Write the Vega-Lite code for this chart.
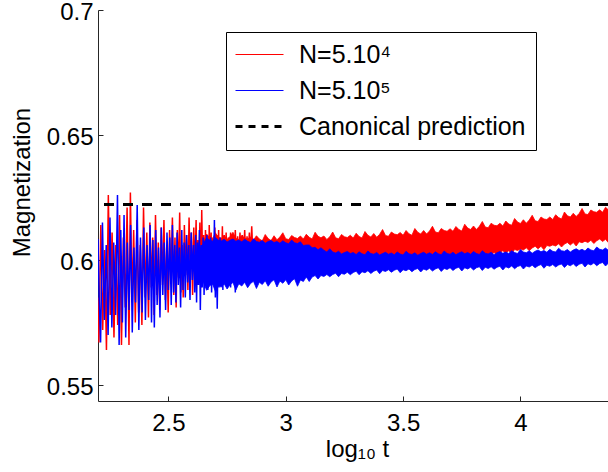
{
  "$schema": "https://vega.github.io/schema/vega-lite/v6.json",
  "width": 510,
  "height": 391,
  "autosize": {"type": "none"},
  "padding": {"left": 98, "top": 10, "right": 0, "bottom": 71},
  "background": "white",
  "config": {
    "font": "Liberation Sans",
    "view": {"stroke": null},
    "axis": {
      "grid": false,
      "labelFont": "Liberation Sans",
      "labelFontSize": 24,
      "labelColor": "#000",
      "titleFont": "Liberation Sans",
      "titleFontSize": 24,
      "titleFontWeight": "normal",
      "titleColor": "#000",
      "domainColor": "#262626",
      "tickColor": "#262626",
      "tickSize": -5,
      "labelFlush": false,
      "labelOverlap": false,
      "labelBound": false
    },
    "legend": {
      "orient": "none",
      "legendX": 128,
      "legendY": 22,
      "strokeColor": "#000",
      "fillColor": "#fff",
      "padding": 10,
      "cornerRadius": 0,
      "symbolType": "M-2,0H2",
      "symbolSize": 576,
      "symbolOffset": 11,
      "labelOffset": 27,
      "rowPadding": 10,
      "labelFont": "Liberation Sans",
      "labelFontSize": 25,
      "labelColor": "#000",
      "labelLimit": 500
    }
  },
  "datasets": {
    "redLine": [
      {"x":2.200,"y":0.585},{"x":2.204,"y":0.567},{"x":2.212,"y":0.614},{"x":2.220,"y":0.572},{"x":2.228,"y":0.604},{"x":2.236,"y":0.564},{"x":2.244,"y":0.626},{"x":2.252,"y":0.578},{"x":2.260,"y":0.611},{"x":2.268,"y":0.569},{"x":2.276,"y":0.606},{"x":2.284,"y":0.574},{"x":2.292,"y":0.618},{"x":2.300,"y":0.566},{"x":2.308,"y":0.609},{"x":2.316,"y":0.581},{"x":2.324,"y":0.621},{"x":2.332,"y":0.566},{"x":2.338,"y":0.627},{"x":2.345,"y":0.583},{"x":2.352,"y":0.612},{"x":2.359,"y":0.575},{"x":2.366,"y":0.616},{"x":2.373,"y":0.579},{"x":2.380,"y":0.606},{"x":2.387,"y":0.574},{"x":2.394,"y":0.621},{"x":2.401,"y":0.585},{"x":2.408,"y":0.611},{"x":2.415,"y":0.577},{"x":2.421,"y":0.615},{"x":2.427,"y":0.589},{"x":2.433,"y":0.609},{"x":2.439,"y":0.578},{"x":2.445,"y":0.618},{"x":2.451,"y":0.586},{"x":2.457,"y":0.607},{"x":2.463,"y":0.580},{"x":2.469,"y":0.613},{"x":2.475,"y":0.590},{"x":2.481,"y":0.616},{"x":2.487,"y":0.584},{"x":2.493,"y":0.606},{"x":2.499,"y":0.579},{"x":2.505,"y":0.612},{"x":2.511,"y":0.592},{"x":2.517,"y":0.617},{"x":2.523,"y":0.586},{"x":2.528,"y":0.609},{"x":2.533,"y":0.581},{"x":2.538,"y":0.612},{"x":2.543,"y":0.593},{"x":2.548,"y":0.619},{"x":2.553,"y":0.587},{"x":2.558,"y":0.606},{"x":2.563,"y":0.585},{"x":2.568,"y":0.614},{"x":2.573,"y":0.594},{"x":2.578,"y":0.610},{"x":2.583,"y":0.588},{"x":2.588,"y":0.617},{"x":2.593,"y":0.596},{"x":2.598,"y":0.611},{"x":2.603,"y":0.586},{"x":2.608,"y":0.613},{"x":2.613,"y":0.595},{"x":2.618,"y":0.616},{"x":2.622,"y":0.590},{"x":2.626,"y":0.608},{"x":2.630,"y":0.593},{"x":2.634,"y":0.615},{"x":2.638,"y":0.589},{"x":2.642,"y":0.620},{"x":2.646,"y":0.597},{"x":2.650,"y":0.610},{"x":2.654,"y":0.591},{"x":2.658,"y":0.612},{"x":2.662,"y":0.595},{"x":2.666,"y":0.609},{"x":2.670,"y":0.589},{"x":2.674,"y":0.614},{"x":2.678,"y":0.597},{"x":2.682,"y":0.611},{"x":2.686,"y":0.592},{"x":2.690,"y":0.609},{"x":2.694,"y":0.596},{"x":2.698,"y":0.613},{"x":2.702,"y":0.593},{"x":2.706,"y":0.610},{"x":2.710,"y":0.598},{"x":2.714,"y":0.612},{"x":2.718,"y":0.594},{"x":2.722,"y":0.609},{"x":2.726,"y":0.597},{"x":2.730,"y":0.6135},{"x":2.734,"y":0.593},{"x":2.738,"y":0.610},{"x":2.742,"y":0.598},{"x":2.746,"y":0.611},{"x":2.750,"y":0.595},{"x":2.755,"y":0.609},{"x":2.760,"y":0.599},{"x":2.765,"y":0.611},{"x":2.770,"y":0.598},{"x":2.775,"y":0.610},{"x":2.780,"y":0.600},{"x":2.785,"y":0.612},{"x":2.790,"y":0.599},{"x":2.795,"y":0.6095},{"x":2.800,"y":0.601},{"x":2.805,"y":0.611},{"x":2.810,"y":0.600},{"x":2.815,"y":0.610},{"x":2.820,"y":0.601},{"x":2.825,"y":0.612},{"x":2.830,"y":0.600},{"x":2.835,"y":0.6095},{"x":2.840,"y":0.602},{"x":2.845,"y":0.611},{"x":2.850,"y":0.601},{"x":2.855,"y":0.6135},{"x":2.860,"y":0.602}
    ],
    "blueLine": [
      {"x":2.200,"y":0.6084},{"x":2.205,"y":0.585},{"x":2.211,"y":0.567},{"x":2.219,"y":0.615},{"x":2.227,"y":0.576},{"x":2.235,"y":0.606},{"x":2.243,"y":0.570},{"x":2.251,"y":0.617},{"x":2.259,"y":0.573},{"x":2.267,"y":0.607},{"x":2.275,"y":0.578},{"x":2.283,"y":0.626},{"x":2.290,"y":0.566},{"x":2.297,"y":0.612},{"x":2.304,"y":0.575},{"x":2.311,"y":0.618},{"x":2.318,"y":0.569},{"x":2.325,"y":0.607},{"x":2.332,"y":0.580},{"x":2.339,"y":0.614},{"x":2.346,"y":0.571},{"x":2.353,"y":0.605},{"x":2.360,"y":0.583},{"x":2.367,"y":0.622},{"x":2.374,"y":0.572},{"x":2.381,"y":0.609},{"x":2.388,"y":0.579},{"x":2.395,"y":0.613},{"x":2.402,"y":0.576},{"x":2.409,"y":0.606},{"x":2.416,"y":0.584},{"x":2.422,"y":0.614},{"x":2.428,"y":0.575},{"x":2.434,"y":0.608},{"x":2.440,"y":0.573},{"x":2.446,"y":0.612},{"x":2.452,"y":0.582},{"x":2.458,"y":0.605},{"x":2.464,"y":0.577},{"x":2.470,"y":0.613},{"x":2.476,"y":0.586},{"x":2.482,"y":0.607},{"x":2.488,"y":0.580},{"x":2.494,"y":0.611},{"x":2.500,"y":0.588},{"x":2.506,"y":0.609},{"x":2.512,"y":0.582},{"x":2.517,"y":0.614},{"x":2.522,"y":0.587},{"x":2.527,"y":0.606},{"x":2.532,"y":0.583},{"x":2.537,"y":0.611},{"x":2.542,"y":0.590},{"x":2.547,"y":0.605},{"x":2.552,"y":0.581},{"x":2.557,"y":0.612},{"x":2.562,"y":0.588},{"x":2.567,"y":0.607},{"x":2.572,"y":0.585},{"x":2.577,"y":0.610},{"x":2.582,"y":0.591},{"x":2.587,"y":0.606},{"x":2.592,"y":0.584},{"x":2.597,"y":0.611},{"x":2.602,"y":0.592},{"x":2.607,"y":0.606},{"x":2.612,"y":0.587},{"x":2.616,"y":0.610},{"x":2.620,"y":0.583},{"x":2.624,"y":0.607},{"x":2.628,"y":0.590},{"x":2.632,"y":0.612},{"x":2.636,"y":0.580},{"x":2.640,"y":0.606},{"x":2.644,"y":0.589},{"x":2.648,"y":0.609},{"x":2.652,"y":0.586},{"x":2.656,"y":0.605},{"x":2.660,"y":0.591},{"x":2.664,"y":0.610},{"x":2.668,"y":0.588},{"x":2.672,"y":0.606},{"x":2.676,"y":0.592},{"x":2.680,"y":0.609},{"x":2.684,"y":0.587},{"x":2.688,"y":0.605},{"x":2.692,"y":0.590},{"x":2.696,"y":0.616},{"x":2.700,"y":0.585},{"x":2.704,"y":0.607},{"x":2.708,"y":0.5805},{"x":2.712,"y":0.606},{"x":2.716,"y":0.589},{"x":2.720,"y":0.609},{"x":2.724,"y":0.591},{"x":2.728,"y":0.606},{"x":2.732,"y":0.588},{"x":2.736,"y":0.608},{"x":2.740,"y":0.592},{"x":2.744,"y":0.605},{"x":2.748,"y":0.590},{"x":2.752,"y":0.607},{"x":2.756,"y":0.593},{"x":2.760,"y":0.6055},{"x":2.765,"y":0.589},{"x":2.770,"y":0.606},{"x":2.775,"y":0.592},{"x":2.780,"y":0.607},{"x":2.785,"y":0.587},{"x":2.790,"y":0.605},{"x":2.795,"y":0.591},{"x":2.800,"y":0.606}
    ],
    "bands": [
      {"x":2.625,"rl":0.600,"rh":0.6030,"bl":0.5960,"bh":0.6020},
      {"x":2.6375,"rl":0.599,"rh":0.6060,"bl":0.5930,"bh":0.6050},
      {"x":2.65,"rl":0.598,"rh":0.6075,"bl":0.5910,"bh":0.6068},
      {"x":2.6625,"rl":0.597,"rh":0.6104,"bl":0.5879,"bh":0.6088},
      {"x":2.675,"rl":0.597,"rh":0.6091,"bl":0.5896,"bh":0.6080},
      {"x":2.6875,"rl":0.597,"rh":0.6083,"bl":0.5905,"bh":0.6075},
      {"x":2.7,"rl":0.597,"rh":0.6109,"bl":0.5875,"bh":0.6090},
      {"x":2.7125,"rl":0.597,"rh":0.6092,"bl":0.5900,"bh":0.6080},
      {"x":2.725,"rl":0.597,"rh":0.6085,"bl":0.5891,"bh":0.6076},
      {"x":2.7375,"rl":0.597,"rh":0.6098,"bl":0.5905,"bh":0.6083},
      {"x":2.75,"rl":0.597,"rh":0.6082,"bl":0.5884,"bh":0.6072},
      {"x":2.7625,"rl":0.597,"rh":0.6093,"bl":0.5901,"bh":0.6079},
      {"x":2.775,"rl":0.597,"rh":0.6111,"bl":0.5910,"bh":0.6084},
      {"x":2.7875,"rl":0.597,"rh":0.6086,"bl":0.5880,"bh":0.6075},
      {"x":2.8,"rl":0.597,"rh":0.6082,"bl":0.5905,"bh":0.6080},
      {"x":2.8125,"rl":0.597,"rh":0.6098,"bl":0.5896,"bh":0.6073},
      {"x":2.825,"rl":0.597,"rh":0.6088,"bl":0.5911,"bh":0.6083},
      {"x":2.8375,"rl":0.597,"rh":0.6084,"bl":0.5889,"bh":0.6075},
      {"x":2.85,"rl":0.597,"rh":0.6092,"bl":0.5906,"bh":0.6070},
      {"x":2.8625,"rl":0.597,"rh":0.6080,"bl":0.5915,"bh":0.6085},
      {"x":2.875,"rl":0.597,"rh":0.6097,"bl":0.5886,"bh":0.6074},
      {"x":2.8875,"rl":0.597,"rh":0.6084,"bl":0.5911,"bh":0.6071},
      {"x":2.9,"rl":0.597,"rh":0.6077,"bl":0.5902,"bh":0.6078},
      {"x":2.9125,"rl":0.597,"rh":0.6102,"bl":0.5917,"bh":0.6067},
      {"x":2.925,"rl":0.597,"rh":0.6086,"bl":0.5895,"bh":0.6074},
      {"x":2.9375,"rl":0.597,"rh":0.6078,"bl":0.5912,"bh":0.6078},
      {"x":2.95,"rl":0.597,"rh":0.6097,"bl":0.5921,"bh":0.6070},
      {"x":2.9625,"rl":0.597,"rh":0.6081,"bl":0.5892,"bh":0.6074},
      {"x":2.975,"rl":0.597,"rh":0.6092,"bl":0.5916,"bh":0.6067},
      {"x":2.9875,"rl":0.597,"rh":0.6109,"bl":0.5907,"bh":0.6077},
      {"x":3.0,"rl":0.597,"rh":0.6085,"bl":0.5921,"bh":0.6069},
      {"x":3.0125,"rl":0.597,"rh":0.6082,"bl":0.5900,"bh":0.6065},
      {"x":3.025,"rl":0.597,"rh":0.6098,"bl":0.5916,"bh":0.6080},
      {"x":3.0375,"rl":0.597,"rh":0.6090,"bl":0.5925,"bh":0.6069},
      {"x":3.05,"rl":0.597,"rh":0.6086,"bl":0.5895,"bh":0.6066},
      {"x":3.0625,"rl":0.597,"rh":0.6096,"bl":0.5920,"bh":0.6073},
      {"x":3.075,"rl":0.597,"rh":0.6084,"bl":0.5914,"bh":0.6058},
      {"x":3.0875,"rl":0.597,"rh":0.6103,"bl":0.5932,"bh":0.6060},
      {"x":3.1,"rl":0.597,"rh":0.6091,"bl":0.5914,"bh":0.6060},
      {"x":3.1125,"rl":0.597,"rh":0.6084,"bl":0.5932,"bh":0.6049},
      {"x":3.125,"rl":0.597,"rh":0.6111,"bl":0.5938,"bh":0.6051},
      {"x":3.1375,"rl":0.597,"rh":0.6095,"bl":0.5924,"bh":0.6041},
      {"x":3.15,"rl":0.597,"rh":0.6089,"bl":0.5938,"bh":0.6049},
      {"x":3.1625,"rl":0.597,"rh":0.6096,"bl":0.5934,"bh":0.6039},
      {"x":3.175,"rl":0.597,"rh":0.6082,"bl":0.5942,"bh":0.6032},
      {"x":3.1875,"rl":0.597,"rh":0.6093,"bl":0.5933,"bh":0.6045},
      {"x":3.2,"rl":0.597,"rh":0.6112,"bl":0.5942,"bh":0.6032},
      {"x":3.2125,"rl":0.597,"rh":0.6089,"bl":0.5947,"bh":0.6028},
      {"x":3.225,"rl":0.597,"rh":0.6085,"bl":0.5933,"bh":0.6035},
      {"x":3.2375,"rl":0.597,"rh":0.6102,"bl":0.5946,"bh":0.6024},
      {"x":3.25,"rl":0.597,"rh":0.6093,"bl":0.5943,"bh":0.6030},
      {"x":3.2625,"rl":0.597,"rh":0.6090,"bl":0.5951,"bh":0.6034},
      {"x":3.275,"rl":0.597,"rh":0.6099,"bl":0.5941,"bh":0.6026},
      {"x":3.2875,"rl":0.597,"rh":0.6088,"bl":0.5950,"bh":0.6030},
      {"x":3.3,"rl":0.597,"rh":0.6107,"bl":0.5955,"bh":0.6022},
      {"x":3.3125,"rl":0.597,"rh":0.6094,"bl":0.5941,"bh":0.6033},
      {"x":3.325,"rl":0.597,"rh":0.6088,"bl":0.5953,"bh":0.6025},
      {"x":3.3375,"rl":0.597,"rh":0.6114,"bl":0.5949,"bh":0.6021},
      {"x":3.35,"rl":0.597,"rh":0.6099,"bl":0.5957,"bh":0.6036},
      {"x":3.3625,"rl":0.597,"rh":0.6092,"bl":0.5946,"bh":0.6026},
      {"x":3.375,"rl":0.597,"rh":0.6106,"bl":0.5955,"bh":0.6023},
      {"x":3.3875,"rl":0.597,"rh":0.6091,"bl":0.5960,"bh":0.6030},
      {"x":3.4,"rl":0.597,"rh":0.6103,"bl":0.5945,"bh":0.6020},
      {"x":3.4125,"rl":0.597,"rh":0.6122,"bl":0.5958,"bh":0.6026},
      {"x":3.425,"rl":0.597,"rh":0.6098,"bl":0.5954,"bh":0.6031},
      {"x":3.4375,"rl":0.597,"rh":0.6095,"bl":0.5961,"bh":0.6023},
      {"x":3.45,"rl":0.597,"rh":0.6112,"bl":0.5951,"bh":0.6028},
      {"x":3.4625,"rl":0.597,"rh":0.6104,"bl":0.5959,"bh":0.6021},
      {"x":3.475,"rl":0.597,"rh":0.6101,"bl":0.5964,"bh":0.6032},
      {"x":3.4875,"rl":0.597,"rh":0.6110,"bl":0.5949,"bh":0.6024},
      {"x":3.5,"rl":0.597,"rh":0.6099,"bl":0.5961,"bh":0.6020},
      {"x":3.5125,"rl":0.597,"rh":0.6118,"bl":0.5957,"bh":0.6035},
      {"x":3.525,"rl":0.597,"rh":0.6105,"bl":0.5964,"bh":0.6025},
      {"x":3.5375,"rl":0.597,"rh":0.6099,"bl":0.5953,"bh":0.6022},
      {"x":3.55,"rl":0.597,"rh":0.6126,"bl":0.5962,"bh":0.6029},
      {"x":3.5625,"rl":0.597,"rh":0.6111,"bl":0.5966,"bh":0.6019},
      {"x":3.575,"rl":0.597,"rh":0.6104,"bl":0.5952,"bh":0.6026},
      {"x":3.5875,"rl":0.597,"rh":0.6118,"bl":0.5964,"bh":0.6031},
      {"x":3.6,"rl":0.597,"rh":0.6104,"bl":0.5959,"bh":0.6023},
      {"x":3.6125,"rl":0.597,"rh":0.6116,"bl":0.5967,"bh":0.6029},
      {"x":3.625,"rl":0.597,"rh":0.6135,"bl":0.5956,"bh":0.6022},
      {"x":3.6375,"rl":0.597,"rh":0.6112,"bl":0.5964,"bh":0.6033},
      {"x":3.65,"rl":0.597,"rh":0.6109,"bl":0.5969,"bh":0.6025},
      {"x":3.6625,"rl":0.597,"rh":0.6126,"bl":0.5954,"bh":0.6021},
      {"x":3.675,"rl":0.597,"rh":0.6118,"bl":0.5966,"bh":0.6036},
      {"x":3.6875,"rl":0.597,"rh":0.6115,"bl":0.5962,"bh":0.6026},
      {"x":3.7,"rl":0.597,"rh":0.6125,"bl":0.5969,"bh":0.6023},
      {"x":3.7125,"rl":0.597,"rh":0.6115,"bl":0.5958,"bh":0.6031},
      {"x":3.725,"rl":0.5985,"rh":0.6134,"bl":0.5967,"bh":0.6021},
      {"x":3.7375,"rl":0.5986,"rh":0.6122,"bl":0.5971,"bh":0.6028},
      {"x":3.75,"rl":0.6002,"rh":0.6116,"bl":0.5956,"bh":0.6033},
      {"x":3.7625,"rl":0.5991,"rh":0.6143,"bl":0.5969,"bh":0.6025},
      {"x":3.775,"rl":0.6004,"rh":0.6128,"bl":0.5964,"bh":0.6030},
      {"x":3.7875,"rl":0.6012,"rh":0.6122,"bl":0.5971,"bh":0.6023},
      {"x":3.8,"rl":0.6004,"rh":0.6136,"bl":0.5960,"bh":0.6034},
      {"x":3.8125,"rl":0.6014,"rh":0.6122,"bl":0.5969,"bh":0.6026},
      {"x":3.825,"rl":0.6002,"rh":0.6135,"bl":0.5973,"bh":0.6022},
      {"x":3.8375,"rl":0.6020,"rh":0.6154,"bl":0.5958,"bh":0.6037},
      {"x":3.85,"rl":0.6017,"rh":0.6132,"bl":0.5971,"bh":0.6027},
      {"x":3.8625,"rl":0.6023,"rh":0.6129,"bl":0.5966,"bh":0.6024},
      {"x":3.875,"rl":0.6020,"rh":0.6147,"bl":0.5973,"bh":0.6031},
      {"x":3.8875,"rl":0.6030,"rh":0.6139,"bl":0.5963,"bh":0.6021},
      {"x":3.9,"rl":0.6018,"rh":0.6137,"bl":0.5971,"bh":0.6029},
      {"x":3.9125,"rl":0.6030,"rh":0.6147,"bl":0.5975,"bh":0.6034},
      {"x":3.925,"rl":0.6037,"rh":0.6136,"bl":0.5960,"bh":0.6027},
      {"x":3.9375,"rl":0.6027,"rh":0.6156,"bl":0.5973,"bh":0.6032},
      {"x":3.95,"rl":0.6037,"rh":0.6144,"bl":0.5968,"bh":0.6026},
      {"x":3.9625,"rl":0.6024,"rh":0.6139,"bl":0.5976,"bh":0.6037},
      {"x":3.975,"rl":0.6042,"rh":0.6166,"bl":0.5965,"bh":0.6030},
      {"x":3.9875,"rl":0.6038,"rh":0.6152,"bl":0.5974,"bh":0.6026},
      {"x":4.0,"rl":0.6044,"rh":0.6146,"bl":0.5978,"bh":0.6042},
      {"x":4.0125,"rl":0.6040,"rh":0.6161,"bl":0.5964,"bh":0.6032},
      {"x":4.025,"rl":0.6049,"rh":0.6147,"bl":0.5976,"bh":0.6029},
      {"x":4.0375,"rl":0.6037,"rh":0.6160,"bl":0.5972,"bh":0.6037},
      {"x":4.05,"rl":0.6048,"rh":0.6179,"bl":0.5979,"bh":0.6027},
      {"x":4.0625,"rl":0.6055,"rh":0.6157,"bl":0.5969,"bh":0.6035},
      {"x":4.075,"rl":0.6045,"rh":0.6154,"bl":0.5977,"bh":0.6040},
      {"x":4.0875,"rl":0.6055,"rh":0.6172,"bl":0.5982,"bh":0.6033},
      {"x":4.1,"rl":0.6041,"rh":0.6164,"bl":0.5967,"bh":0.6038},
      {"x":4.1125,"rl":0.6058,"rh":0.6162,"bl":0.5979,"bh":0.6031},
      {"x":4.125,"rl":0.6055,"rh":0.6172,"bl":0.5975,"bh":0.6043},
      {"x":4.1375,"rl":0.6060,"rh":0.6162,"bl":0.5982,"bh":0.6035},
      {"x":4.15,"rl":0.6056,"rh":0.6181,"bl":0.5972,"bh":0.6032},
      {"x":4.1625,"rl":0.6065,"rh":0.6170,"bl":0.5980,"bh":0.6047},
      {"x":4.175,"rl":0.6052,"rh":0.6164,"bl":0.5984,"bh":0.6037},
      {"x":4.1875,"rl":0.6064,"rh":0.6192,"bl":0.5970,"bh":0.6035},
      {"x":4.2,"rl":0.6070,"rh":0.6177,"bl":0.5982,"bh":0.6042},
      {"x":4.2125,"rl":0.6060,"rh":0.6172,"bl":0.5977,"bh":0.6032},
      {"x":4.225,"rl":0.6070,"rh":0.6187,"bl":0.5985,"bh":0.6040},
      {"x":4.2375,"rl":0.6056,"rh":0.6174,"bl":0.5974,"bh":0.6045},
      {"x":4.25,"rl":0.6073,"rh":0.6186,"bl":0.5983,"bh":0.6038},
      {"x":4.2625,"rl":0.6069,"rh":0.6206,"bl":0.5987,"bh":0.6043},
      {"x":4.275,"rl":0.6075,"rh":0.6184,"bl":0.5972,"bh":0.6036},
      {"x":4.2875,"rl":0.6070,"rh":0.6182,"bl":0.5985,"bh":0.6048},
      {"x":4.3,"rl":0.6079,"rh":0.6200,"bl":0.5980,"bh":0.6040},
      {"x":4.3125,"rl":0.6066,"rh":0.6193,"bl":0.5988,"bh":0.6037},
      {"x":4.325,"rl":0.6077,"rh":0.6191,"bl":0.5977,"bh":0.6052},
      {"x":4.3375,"rl":0.6084,"rh":0.6201,"bl":0.5986,"bh":0.6043},
      {"x":4.35,"rl":0.6074,"rh":0.6191,"bl":0.5990,"bh":0.6040},
      {"x":4.3625,"rl":0.6083,"rh":0.6211,"bl":0.5976,"bh":0.6048},
      {"x":4.375,"rl":0.6069,"rh":0.6200,"bl":0.5988,"bh":0.6038}
    ],
    "canonical": [{"y": 0.6222}]
  },
  "layer": [
    {
      "data": {"name": "bands"},
      "mark": {"type": "area", "color": "#ff0000", "clip": true, "stroke": "#ff0000", "strokeWidth": 0.8},
      "encoding": {
        "x": {"field": "x", "type": "quantitative", "scale": {"domain": [2.2, 4.373], "nice": false, "zero": false},
          "axis": {"values": [2.5, 3, 3.5, 4], "format": ".1~f", "labelPadding": 15, "title": "log₁₀ t", "titleX": 259, "titleY": 55, "titleAlign": "center", "titleBaseline": "alphabetic"}},
        "y": {"field": "rl", "type": "quantitative", "scale": {"domain": [0.5436, 0.7], "nice": false, "zero": false},
          "axis": {"values": [0.55, 0.6, 0.65, 0.7], "format": ".2~f", "labelPadding": 10, "labelOffset": 2, "title": "Magnetization", "titleX": -76, "titleY": 172, "titleAlign": "center", "titleBaseline": "middle", "titleAngle": -90}},
        "y2": {"field": "rh"}
      }
    },
    {
      "data": {"name": "redLine"},
      "mark": {"type": "line", "clip": true, "strokeWidth": 1.5},
      "encoding": {
        "x": {"field": "x", "type": "quantitative"},
        "y": {"field": "y", "type": "quantitative"},
        "color": {"datum": "N=5.10⁴", "type": "nominal",
          "scale": {"domain": ["N=5.10⁴", "N=5.10⁵", "Canonical prediction"], "range": ["#ff0000", "#0000ff", "#000000"]},
          "legend": {"title": null, "encode": {"symbols": {"update": {"strokeWidth": {"signal": "datum.value === 'Canonical prediction' ? 3 : 1.2"}}}}}},
        "strokeDash": {"datum": "N=5.10⁴", "type": "nominal",
          "scale": {"domain": ["N=5.10⁴", "N=5.10⁵", "Canonical prediction"], "range": [[1, 0], [1, 0], [7, 6]]},
          "legend": {"title": null}}
      }
    },
    {
      "data": {"name": "bands"},
      "mark": {"type": "area", "color": "#0000ff", "clip": true, "stroke": "#0000ff", "strokeWidth": 0.8},
      "encoding": {
        "x": {"field": "x", "type": "quantitative"},
        "y": {"field": "bl", "type": "quantitative"},
        "y2": {"field": "bh"}
      }
    },
    {
      "data": {"name": "blueLine"},
      "mark": {"type": "line", "clip": true, "strokeWidth": 1.5},
      "encoding": {
        "x": {"field": "x", "type": "quantitative"},
        "y": {"field": "y", "type": "quantitative"},
        "color": {"datum": "N=5.10⁵", "type": "nominal"},
        "strokeDash": {"datum": "N=5.10⁵", "type": "nominal"}
      }
    },
    {
      "data": {"name": "canonical"},
      "mark": {"type": "rule", "color": "#000000", "strokeWidth": 3, "strokeDash": [10, 9]},
      "encoding": {
        "y": {"field": "y", "type": "quantitative"}
      }
    }
  ]
}
